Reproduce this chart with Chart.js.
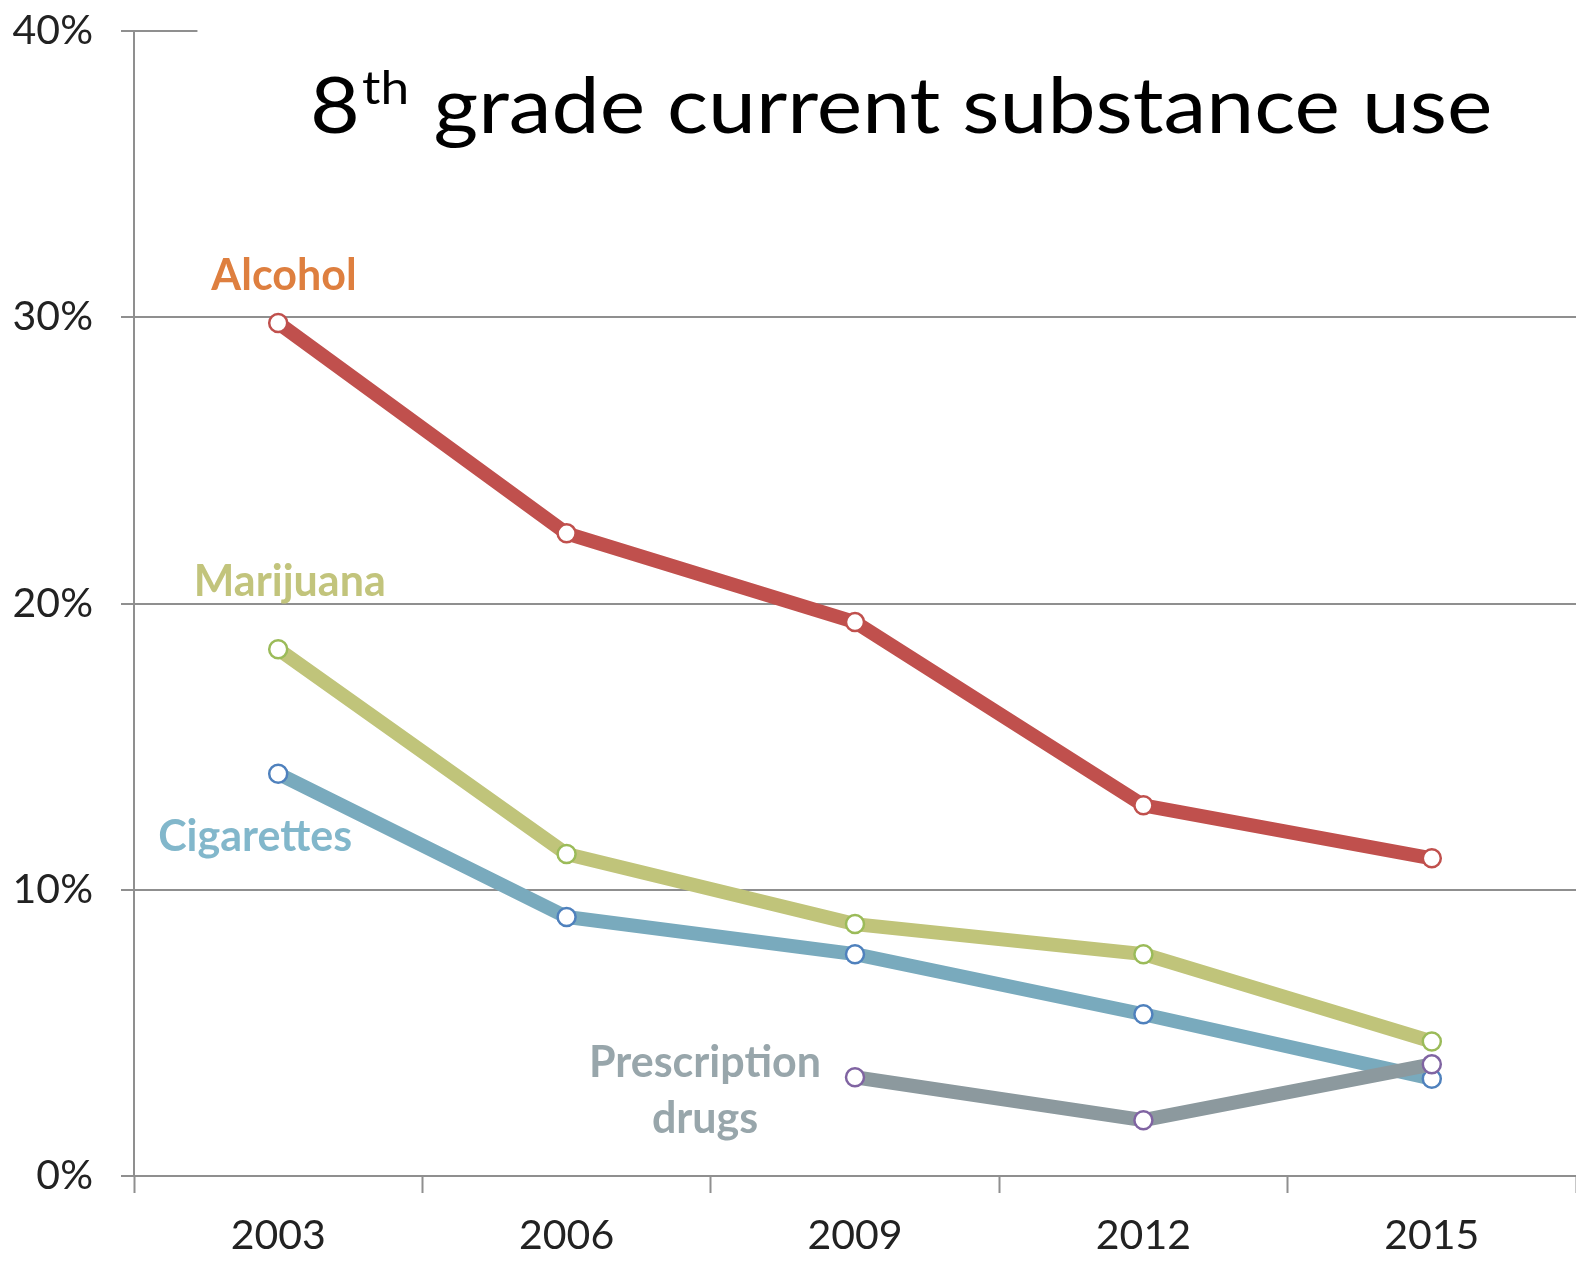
<!DOCTYPE html>
<html>
<head>
<meta charset="utf-8">
<script src="https://cdn.jsdelivr.net/npm/chart.js@4"></script>
<style>
  html, body { margin: 0; padding: 0; background: #fff; }
  #wrap { width: 1576px; height: 1262px; }
</style>
</head>
<body>
<div id="wrap"><canvas id="chart" width="1576" height="1262"></canvas></div>
<script>
const years = ["2003", "2006", "2009", "2012", "2015"];
const alcohol = [29.8, 22.45, 19.35, 12.95, 11.1];
const marijuana = [18.4, 11.25, 8.8, 7.75, 4.7];
const cigarettes = [14.05, 9.05, 7.75, 5.65, 3.4];
const prescription = [null, null, 3.45, 1.95, 3.9];
const yTicks = [0, 10, 20, 30, 40];

// series labels, placed in data units (category index, percent)
const seriesLabels = [
  { text: "Alcohol", x: 0.02, y: 31.45, color: "#DE7F3F" },
  { text: "Marijuana", x: 0.04, y: 20.75, color: "#C2C47C" },
  { text: "Cigarettes", x: -0.08, y: 11.85, color: "#82B7CB" },
  { text: "Prescription", x: 1.48, y: 3.95, color: "#98A6AB" },
  { text: "drugs", x: 1.48, y: 1.97, color: "#98A6AB" }
];

const font = "Lato, 'Open Sans', sans-serif";
const gray = "#8f8f8f";

const overlay = {
  id: "overlay",
  afterDraw(c) {
    const ctx = c.ctx;
    const xs = c.scales.x, ys = c.scales.y;
    const step = (xs.right - xs.left) / years.length;

    // short top gridline
    ctx.save();
    ctx.strokeStyle = gray;
    ctx.lineWidth = 2;
    const yTop = ys.getPixelForValue(40);
    ctx.beginPath();
    ctx.moveTo(xs.left, yTop);
    ctx.lineTo(xs.left + step * 0.22, yTop);
    ctx.stroke();

    // title with superscript, stretched to the reference width
    ctx.fillStyle = "#000";
    ctx.textBaseline = "alphabetic";
    ctx.textAlign = "left";
    const bx = xs.left + step * 0.61;
    const by = ys.getPixelForValue(36.45);
    const target = step * 4.1;
    ctx.font = "77px " + font;
    const w8 = ctx.measureText("8").width;
    const wRest = ctx.measureText("grade current substance use").width;
    ctx.font = "46px " + font;
    const wth = ctx.measureText("th").width;
    const gap = 22;
    const sx = target / (w8 + 2 + wth + gap + wRest);
    ctx.translate(bx, by);
    ctx.scale(sx, 1);
    ctx.font = "77px " + font;
    ctx.fillText("8", 0, 0);
    ctx.font = "46px " + font;
    ctx.fillText("th", w8 + 2, -29);
    ctx.font = "77px " + font;
    ctx.fillText("grade current substance use", w8 + 2 + wth + gap, 0);
    ctx.setTransform(1, 0, 0, 1, 0, 0);

    // series labels
    ctx.font = "bold 43px " + font;
    ctx.textAlign = "center";
    ctx.textBaseline = "middle";
    seriesLabels.forEach(l => {
      ctx.fillStyle = l.color;
      ctx.fillText(l.text, xs.getPixelForValue(0) + l.x * step, ys.getPixelForValue(l.y));
    });
    ctx.restore();
  }
};

function series(label, data, line, marker, order) {
  return {
    label, data, order,
    borderColor: line,
    borderWidth: 14,
    pointRadius: 9,
    pointHoverRadius: 9,
    pointBorderWidth: 2.5,
    pointBackgroundColor: "#fff",
    pointBorderColor: marker,
    tension: 0,
    fill: false
  };
}

new Chart(document.getElementById("chart"), {
  type: "line",
  data: {
    labels: years,
    datasets: [
      series("Prescription drugs", prescription, "#8C999E", "#8064A2", 0),
      series("Alcohol", alcohol, "#C0504D", "#C0504D", 1),
      series("Marijuana", marijuana, "#C0C47A", "#9BBB59", 2),
      series("Cigarettes", cigarettes, "#79AABD", "#4F81BD", 3)
    ]
  },
  options: {
    responsive: false,
    animation: false,
    layout: { autoPadding: false, padding: { top: 31, right: 0, left: 0, bottom: 0 } },
    plugins: { legend: { display: false }, tooltip: { enabled: false } },
    scales: {
      x: {
        offset: true,
        grid: {
          offset: true,
          drawOnChartArea: false,
          tickLength: 17,
          tickColor: gray,
          tickWidth: 2
        },
        border: { color: gray, width: 2 },
        ticks: { color: "#222", font: { family: font, size: 41 }, padding: 18, maxRotation: 0 },
        afterFit(s) {
          s.height = 86;
          s.paddingLeft = 0;
          s.paddingRight = 0;
        }
      },
      y: {
        min: 0, max: 40,
        afterBuildTicks(s) { s.ticks = yTicks.map(v => ({ value: v })); },
        grid: {
          color: ctx => ctx.tick && ctx.tick.value === 40 ? "rgba(0,0,0,0)" : gray,
          lineWidth: 2,
          tickLength: 13,
          tickColor: gray,
          tickWidth: 2
        },
        border: { color: gray, width: 2 },
        ticks: {
          color: "#222",
          font: { family: font, size: 41 },
          padding: 28,
          callback: v => v + "%"
        },
        afterFit(s) {
          s.width = 134;
          s.paddingTop = 0;
          s.paddingBottom = 0;
        }
      }
    }
  },
  plugins: [overlay]
});
</script>
</body>
</html>
